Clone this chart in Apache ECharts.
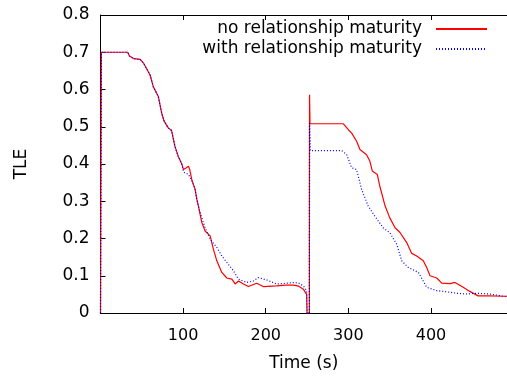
<!DOCTYPE html>
<html>
<head>
<meta charset="utf-8">
<script src="https://cdn.jsdelivr.net/npm/echarts@6/dist/echarts.min.js"></script>
<style>
html,body{margin:0;padding:0;background:#fff;}
#chart{width:507px;height:377px;}
</style>
</head>
<body>
<div id="chart"></div>
<script>
const seriesNames = ['no relationship maturity', 'with relationship maturity'];
const xTickValues = [100, 200, 300, 400];

const redTime = [0, 1, 33, 35, 40, 48, 52, 56, 60, 64, 70, 74, 77, 82, 86, 87.5, 90, 94, 98.5, 100.5, 104, 106.5, 108, 110.5, 114.5, 116.6, 118.5, 122.6, 126.6, 132.7, 136.7, 140.8, 146.8, 152.9, 159, 163, 167, 173, 179, 189, 197, 213, 224, 233.5, 240, 245.5, 249.5, 250, 252.8, 253, 253.6, 294, 300, 304, 310, 314, 322, 326, 329, 335, 338, 344.5, 350, 356.5, 362.5, 370.6, 376.7, 382.7, 390.7, 394.8, 398.8, 407, 413, 423, 429, 439, 447, 457, 471, 487.5, 492];
const redTLE = [0, 0.7, 0.7, 0.69, 0.683, 0.681, 0.671, 0.655, 0.639, 0.607, 0.581, 0.537, 0.515, 0.497, 0.49, 0.486, 0.448, 0.421, 0.399, 0.385, 0.39, 0.394, 0.385, 0.358, 0.332, 0.305, 0.287, 0.243, 0.22, 0.207, 0.171, 0.14, 0.109, 0.094, 0.091, 0.078, 0.086, 0.078, 0.071, 0.08, 0.071, 0.073, 0.075, 0.075, 0.072, 0.064, 0.05, 0, 0, 0.586, 0.508, 0.508, 0.492, 0.483, 0.461, 0.439, 0.425, 0.408, 0.381, 0.372, 0.341, 0.287, 0.256, 0.229, 0.216, 0.189, 0.16, 0.153, 0.14, 0.122, 0.1, 0.094, 0.08, 0.079, 0.082, 0.069, 0.058, 0.046, 0.046, 0.045, 0.045];

const blueTime = [0, 1, 33, 35, 40, 48, 52, 56, 60, 64, 70, 74, 77, 82, 86, 87.5, 90, 94, 98.5, 100.5, 104, 106.5, 108.5, 110.5, 114.5, 116.6, 120.6, 126.6, 132.7, 140.8, 146.8, 152.9, 161, 167, 177, 185, 191, 201, 213, 221, 235, 240, 245.5, 249.5, 250, 252.8, 253, 254, 292, 298, 304, 310, 316, 324, 332, 342, 350, 358.5, 364.6, 372.6, 384.7, 394.8, 407, 419, 431, 443, 455, 471, 487.5, 492];
const blueTLE = [0, 0.7, 0.7, 0.69, 0.683, 0.681, 0.671, 0.655, 0.639, 0.607, 0.581, 0.537, 0.515, 0.497, 0.49, 0.486, 0.448, 0.421, 0.399, 0.378, 0.375, 0.372, 0.37, 0.355, 0.332, 0.305, 0.269, 0.229, 0.198, 0.176, 0.153, 0.136, 0.113, 0.091, 0.082, 0.086, 0.095, 0.089, 0.078, 0.079, 0.082, 0.08, 0.073, 0.06, 0, 0, 0.51, 0.436, 0.436, 0.425, 0.39, 0.385, 0.332, 0.287, 0.26, 0.229, 0.216, 0.185, 0.14, 0.122, 0.109, 0.069, 0.06, 0.057, 0.053, 0.051, 0.053, 0.051, 0.045, 0.045];

const redData = redTime.map((t, i) => [t, redTLE[i]]);
const blueData = blueTime.map((t, i) => [t, blueTLE[i]]);

const FONT = 'DejaVu Sans';
const chart = echarts.init(document.getElementById('chart'), null, {renderer: 'canvas'});

const legendBase = {
  orient: 'vertical',
  align: 'right',
  right: 19,
  itemWidth: 51,
  itemHeight: 10,
  itemGap: 0,
  padding: 0,
  selectedMode: false,
  itemStyle: {opacity: 0},
  textStyle: {fontFamily: FONT, fontSize: 17, color: '#000', lineHeight: 20, padding: [0, 9, 0, 0]}
};

chart.setOption({
  animation: false,
  backgroundColor: '#fff',
  grid: {left: 100.5, top: 15, right: 0, bottom: 63, containLabel: false},
  legend: [
    Object.assign({}, legendBase, {top: 19, data: [seriesNames[0]]}),
    Object.assign({}, legendBase, {top: 39, data: [seriesNames[1]]})
  ],
  xAxis: [{
    type: 'value',
    min: 0,
    max: 492,
    interval: 100,
    name: 'Time (s)',
    nameLocation: 'middle',
    nameGap: 42,
    nameTextStyle: {fontFamily: FONT, fontSize: 17, color: '#000'},
    axisLine: {lineStyle: {color: '#000', width: 1}},
    axisTick: {inside: true, length: 5, lineStyle: {color: '#000'}, customValues: xTickValues},
    axisLabel: {fontFamily: FONT, fontSize: 16, color: '#000', margin: 15, customValues: xTickValues},
    splitLine: {show: false}
  }, {
    type: 'value',
    position: 'top',
    min: 0,
    max: 492,
    interval: 100,
    axisLine: {lineStyle: {color: '#000', width: 1}},
    axisTick: {inside: true, length: 5, lineStyle: {color: '#000'}, customValues: xTickValues},
    axisLabel: {show: false},
    splitLine: {show: false}
  }],
  yAxis: {
    type: 'value',
    min: 0,
    max: 0.8,
    interval: 0.1,
    name: 'TLE',
    nameLocation: 'middle',
    nameGap: 70,
    nameTextStyle: {fontFamily: FONT, fontSize: 17, color: '#000'},
    axisLine: {show: true, lineStyle: {color: '#000', width: 1}},
    axisTick: {show: true, inside: true, length: 5, lineStyle: {color: '#000'}},
    axisLabel: {fontFamily: FONT, fontSize: 17, color: '#000', margin: 11},
    splitLine: {show: false}
  },
  series: [{
    name: seriesNames[0],
    type: 'line',
    data: redData,
    symbol: 'none',
    lineStyle: {color: '#ff0000', width: 1.2},
    itemStyle: {color: '#ff0000'}
  }, {
    name: seriesNames[1],
    type: 'line',
    data: blueData,
    symbol: 'none',
    lineStyle: {color: '#0000ff', width: 1.2, type: [1, 2]},
    itemStyle: {color: '#0000ff'}
  }]
});
</script>
</body>
</html>
